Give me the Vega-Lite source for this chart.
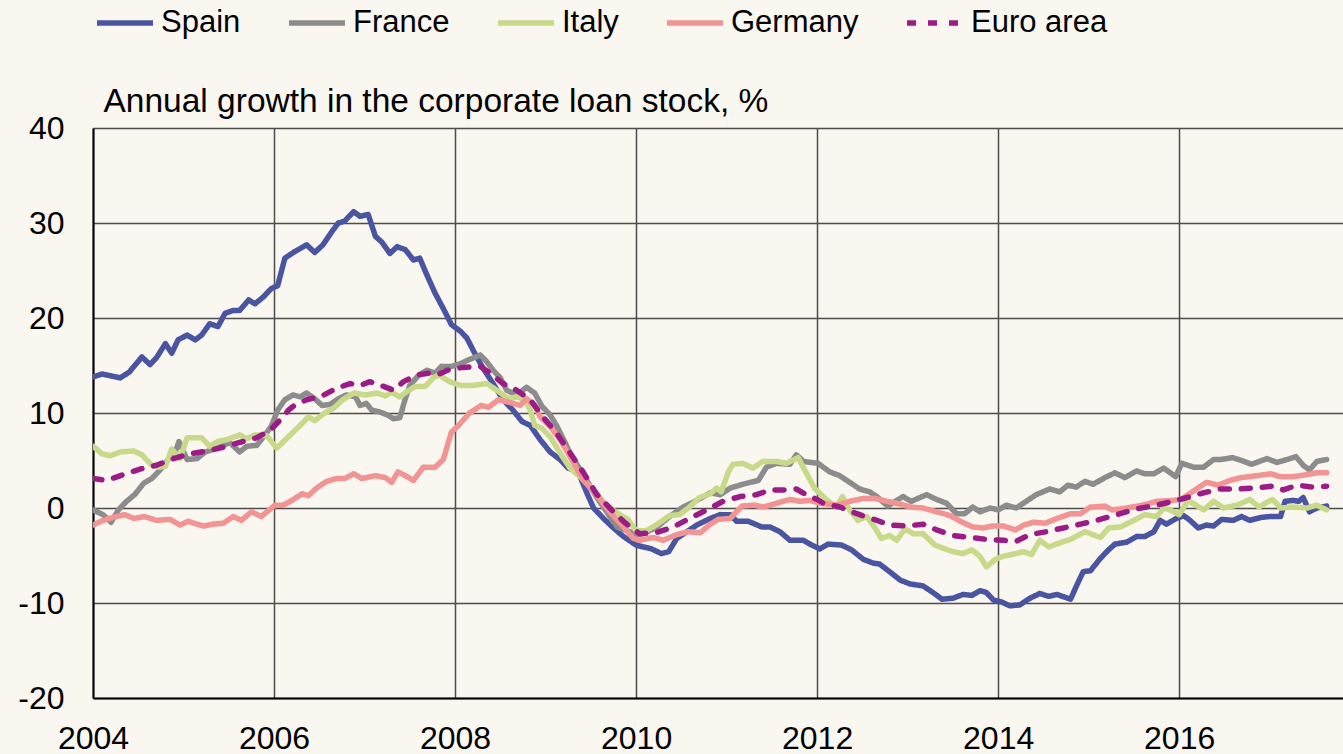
{
  "$schema": "https://vega.github.io/schema/vega-lite/v6.json",
  "width": 1250,
  "height": 570,
  "autosize": "none",
  "padding": {"left": 93, "top": 128, "right": 0, "bottom": 56},
  "background": "#FAF6F0",
  "config": {
    "view": {"stroke": null},
    "font": "Liberation Sans",
    "axis": {
      "labelFont": "Liberation Sans",
      "titleFont": "Liberation Sans",
      "labelColor": "#000000",
      "titleColor": "#000000",
      "ticks": false,
      "domainColor": "#000000",
      "domainWidth": 2,
      "gridColor": "#4d4d4d",
      "gridWidth": 1.5,
      "gridOpacity": 1
    }
  },
  "datasets": {
    "loans": [
      {"c":"Spain","t":2004.00,"v":13.8},{"c":"Spain","t":2004.10,"v":14.1},{"c":"Spain","t":2004.30,"v":13.7},{"c":"Spain","t":2004.40,"v":14.3},{"c":"Spain","t":2004.54,"v":15.9},{"c":"Spain","t":2004.63,"v":15.1},{"c":"Spain","t":2004.70,"v":15.8},{"c":"Spain","t":2004.80,"v":17.3},{"c":"Spain","t":2004.87,"v":16.3},{"c":"Spain","t":2004.94,"v":17.7},
      {"c":"Spain","t":2005.04,"v":18.2},{"c":"Spain","t":2005.13,"v":17.7},{"c":"Spain","t":2005.20,"v":18.2},{"c":"Spain","t":2005.29,"v":19.4},{"c":"Spain","t":2005.38,"v":19.1},{"c":"Spain","t":2005.46,"v":20.5},{"c":"Spain","t":2005.55,"v":20.8},{"c":"Spain","t":2005.62,"v":20.8},{"c":"Spain","t":2005.72,"v":21.9},{"c":"Spain","t":2005.79,"v":21.5},{"c":"Spain","t":2005.88,"v":22.2},{"c":"Spain","t":2005.97,"v":23.1},
      {"c":"Spain","t":2006.04,"v":23.4},{"c":"Spain","t":2006.12,"v":26.3},{"c":"Spain","t":2006.23,"v":27.0},{"c":"Spain","t":2006.36,"v":27.7},{"c":"Spain","t":2006.45,"v":26.9},{"c":"Spain","t":2006.54,"v":27.7},{"c":"Spain","t":2006.64,"v":29.1},{"c":"Spain","t":2006.71,"v":30.0},{"c":"Spain","t":2006.78,"v":30.2},{"c":"Spain","t":2006.88,"v":31.2},{"c":"Spain","t":2006.95,"v":30.7},
      {"c":"Spain","t":2007.04,"v":30.9},{"c":"Spain","t":2007.12,"v":28.6},{"c":"Spain","t":2007.19,"v":28.0},{"c":"Spain","t":2007.28,"v":26.8},{"c":"Spain","t":2007.36,"v":27.5},{"c":"Spain","t":2007.45,"v":27.2},{"c":"Spain","t":2007.54,"v":26.1},{"c":"Spain","t":2007.61,"v":26.3},{"c":"Spain","t":2007.69,"v":24.5},{"c":"Spain","t":2007.78,"v":22.6},{"c":"Spain","t":2007.87,"v":21.0},{"c":"Spain","t":2007.96,"v":19.3},
      {"c":"Spain","t":2008.06,"v":18.6},{"c":"Spain","t":2008.13,"v":17.9},{"c":"Spain","t":2008.20,"v":16.6},{"c":"Spain","t":2008.31,"v":14.7},{"c":"Spain","t":2008.42,"v":13.1},{"c":"Spain","t":2008.53,"v":11.4},{"c":"Spain","t":2008.64,"v":10.3},{"c":"Spain","t":2008.74,"v":9.1},{"c":"Spain","t":2008.83,"v":8.7},{"c":"Spain","t":2008.94,"v":7.2},
      {"c":"Spain","t":2009.05,"v":5.9},{"c":"Spain","t":2009.16,"v":5.1},{"c":"Spain","t":2009.25,"v":4.2},{"c":"Spain","t":2009.36,"v":3.8},{"c":"Spain","t":2009.46,"v":1.5},{"c":"Spain","t":2009.53,"v":0.0},{"c":"Spain","t":2009.64,"v":-1.1},{"c":"Spain","t":2009.75,"v":-2.1},{"c":"Spain","t":2009.86,"v":-3.0},
      {"c":"Spain","t":2010.00,"v":-3.9},{"c":"Spain","t":2010.08,"v":-4.1},{"c":"Spain","t":2010.17,"v":-4.3},{"c":"Spain","t":2010.28,"v":-4.8},{"c":"Spain","t":2010.36,"v":-4.6},{"c":"Spain","t":2010.45,"v":-3.2},{"c":"Spain","t":2010.56,"v":-2.5},{"c":"Spain","t":2010.67,"v":-1.8},{"c":"Spain","t":2010.82,"v":-1.1},{"c":"Spain","t":2010.93,"v":-0.7},
      {"c":"Spain","t":2011.04,"v":-0.7},{"c":"Spain","t":2011.11,"v":-1.4},{"c":"Spain","t":2011.24,"v":-1.4},{"c":"Spain","t":2011.39,"v":-2.0},{"c":"Spain","t":2011.48,"v":-2.0},{"c":"Spain","t":2011.59,"v":-2.5},{"c":"Spain","t":2011.70,"v":-3.4},{"c":"Spain","t":2011.85,"v":-3.4},{"c":"Spain","t":2011.94,"v":-3.9},
      {"c":"Spain","t":2012.03,"v":-4.3},{"c":"Spain","t":2012.12,"v":-3.8},{"c":"Spain","t":2012.27,"v":-3.9},{"c":"Spain","t":2012.38,"v":-4.4},{"c":"Spain","t":2012.51,"v":-5.4},{"c":"Spain","t":2012.62,"v":-5.8},{"c":"Spain","t":2012.69,"v":-5.9},{"c":"Spain","t":2012.80,"v":-6.7},{"c":"Spain","t":2012.92,"v":-7.6},
      {"c":"Spain","t":2013.03,"v":-8.0},{"c":"Spain","t":2013.17,"v":-8.2},{"c":"Spain","t":2013.28,"v":-8.9},{"c":"Spain","t":2013.38,"v":-9.6},{"c":"Spain","t":2013.50,"v":-9.5},{"c":"Spain","t":2013.61,"v":-9.1},{"c":"Spain","t":2013.71,"v":-9.2},{"c":"Spain","t":2013.80,"v":-8.7},{"c":"Spain","t":2013.87,"v":-8.9},{"c":"Spain","t":2013.95,"v":-9.7},
      {"c":"Spain","t":2014.04,"v":-9.9},{"c":"Spain","t":2014.13,"v":-10.3},{"c":"Spain","t":2014.24,"v":-10.2},{"c":"Spain","t":2014.35,"v":-9.5},{"c":"Spain","t":2014.46,"v":-9.0},{"c":"Spain","t":2014.56,"v":-9.3},{"c":"Spain","t":2014.65,"v":-9.1},{"c":"Spain","t":2014.80,"v":-9.6},{"c":"Spain","t":2014.87,"v":-8.1},{"c":"Spain","t":2014.94,"v":-6.7},
      {"c":"Spain","t":2015.02,"v":-6.6},{"c":"Spain","t":2015.13,"v":-5.3},{"c":"Spain","t":2015.22,"v":-4.4},{"c":"Spain","t":2015.29,"v":-3.8},{"c":"Spain","t":2015.42,"v":-3.6},{"c":"Spain","t":2015.53,"v":-3.0},{"c":"Spain","t":2015.62,"v":-3.0},{"c":"Spain","t":2015.72,"v":-2.5},{"c":"Spain","t":2015.79,"v":-1.3},{"c":"Spain","t":2015.86,"v":-1.7},{"c":"Spain","t":2015.97,"v":-1.1},
      {"c":"Spain","t":2016.05,"v":-0.8},{"c":"Spain","t":2016.12,"v":-1.3},{"c":"Spain","t":2016.21,"v":-2.1},{"c":"Spain","t":2016.30,"v":-1.8},{"c":"Spain","t":2016.38,"v":-1.9},{"c":"Spain","t":2016.47,"v":-1.2},{"c":"Spain","t":2016.60,"v":-1.3},{"c":"Spain","t":2016.69,"v":-0.9},{"c":"Spain","t":2016.78,"v":-1.3},{"c":"Spain","t":2016.90,"v":-1.0},
      {"c":"Spain","t":2017.00,"v":-0.9},{"c":"Spain","t":2017.12,"v":-0.9},{"c":"Spain","t":2017.17,"v":0.7},{"c":"Spain","t":2017.26,"v":0.8},{"c":"Spain","t":2017.32,"v":0.7},{"c":"Spain","t":2017.37,"v":1.1},{"c":"Spain","t":2017.44,"v":-0.4},{"c":"Spain","t":2017.52,"v":0.0},{"c":"Spain","t":2017.63,"v":0.2},

      {"c":"France","t":2004.00,"v":-0.2},{"c":"France","t":2004.11,"v":-0.7},{"c":"France","t":2004.20,"v":-1.5},{"c":"France","t":2004.28,"v":-0.2},{"c":"France","t":2004.37,"v":0.7},{"c":"France","t":2004.46,"v":1.4},{"c":"France","t":2004.56,"v":2.6},{"c":"France","t":2004.65,"v":3.1},{"c":"France","t":2004.74,"v":4.0},{"c":"France","t":2004.83,"v":5.1},{"c":"France","t":2004.91,"v":5.9},{"c":"France","t":2004.95,"v":7.0},
      {"c":"France","t":2005.04,"v":5.1},{"c":"France","t":2005.15,"v":5.2},{"c":"France","t":2005.24,"v":5.9},{"c":"France","t":2005.37,"v":6.3},{"c":"France","t":2005.51,"v":6.9},{"c":"France","t":2005.62,"v":5.9},{"c":"France","t":2005.70,"v":6.5},{"c":"France","t":2005.81,"v":6.6},{"c":"France","t":2005.90,"v":7.7},{"c":"France","t":2005.97,"v":8.6},
      {"c":"France","t":2006.04,"v":10.3},{"c":"France","t":2006.12,"v":11.4},{"c":"France","t":2006.21,"v":11.9},{"c":"France","t":2006.29,"v":11.7},{"c":"France","t":2006.36,"v":12.1},{"c":"France","t":2006.45,"v":11.5},{"c":"France","t":2006.53,"v":10.8},{"c":"France","t":2006.62,"v":10.9},{"c":"France","t":2006.71,"v":11.5},{"c":"France","t":2006.80,"v":11.9},{"c":"France","t":2006.90,"v":11.7},{"c":"France","t":2006.95,"v":10.8},
      {"c":"France","t":2007.02,"v":11.0},{"c":"France","t":2007.08,"v":10.3},{"c":"France","t":2007.17,"v":10.1},{"c":"France","t":2007.25,"v":9.8},{"c":"France","t":2007.32,"v":9.4},{"c":"France","t":2007.39,"v":9.5},{"c":"France","t":2007.45,"v":11.5},{"c":"France","t":2007.50,"v":12.9},{"c":"France","t":2007.60,"v":14.0},{"c":"France","t":2007.69,"v":14.5},{"c":"France","t":2007.78,"v":14.2},{"c":"France","t":2007.85,"v":14.9},{"c":"France","t":2007.96,"v":14.9},
      {"c":"France","t":2008.06,"v":15.2},{"c":"France","t":2008.15,"v":15.6},{"c":"France","t":2008.28,"v":16.1},{"c":"France","t":2008.35,"v":15.4},{"c":"France","t":2008.42,"v":14.5},{"c":"France","t":2008.50,"v":13.7},{"c":"France","t":2008.57,"v":12.4},{"c":"France","t":2008.68,"v":11.9},{"c":"France","t":2008.79,"v":12.7},{"c":"France","t":2008.88,"v":12.1},{"c":"France","t":2008.96,"v":10.7},
      {"c":"France","t":2009.05,"v":9.8},{"c":"France","t":2009.12,"v":8.7},{"c":"France","t":2009.20,"v":7.2},{"c":"France","t":2009.29,"v":5.4},{"c":"France","t":2009.40,"v":3.8},{"c":"France","t":2009.56,"v":1.2},{"c":"France","t":2009.79,"v":-2.0},{"c":"France","t":2009.93,"v":-2.5},
      {"c":"France","t":2010.04,"v":-2.8},{"c":"France","t":2010.22,"v":-2.1},{"c":"France","t":2010.37,"v":-0.9},{"c":"France","t":2010.52,"v":0.1},{"c":"France","t":2010.67,"v":0.8},{"c":"France","t":2010.82,"v":1.6},{"c":"France","t":2010.93,"v":1.4},
      {"c":"France","t":2011.04,"v":2.1},{"c":"France","t":2011.18,"v":2.5},{"c":"France","t":2011.35,"v":2.9},{"c":"France","t":2011.44,"v":4.3},{"c":"France","t":2011.55,"v":4.7},{"c":"France","t":2011.70,"v":4.6},{"c":"France","t":2011.77,"v":5.6},{"c":"France","t":2011.85,"v":4.9},
      {"c":"France","t":2012.01,"v":4.7},{"c":"France","t":2012.14,"v":3.8},{"c":"France","t":2012.25,"v":3.4},{"c":"France","t":2012.36,"v":2.7},{"c":"France","t":2012.47,"v":2.0},{"c":"France","t":2012.58,"v":1.7},{"c":"France","t":2012.66,"v":1.2},{"c":"France","t":2012.78,"v":0.2},{"c":"France","t":2012.88,"v":0.8},{"c":"France","t":2012.95,"v":1.2},
      {"c":"France","t":2013.04,"v":0.7},{"c":"France","t":2013.21,"v":1.4},{"c":"France","t":2013.32,"v":0.9},{"c":"France","t":2013.43,"v":0.5},{"c":"France","t":2013.54,"v":-0.6},{"c":"France","t":2013.63,"v":-0.6},{"c":"France","t":2013.72,"v":0.1},{"c":"France","t":2013.80,"v":-0.4},{"c":"France","t":2013.91,"v":0.0},
      {"c":"France","t":2014.00,"v":-0.2},{"c":"France","t":2014.09,"v":0.3},{"c":"France","t":2014.20,"v":0.0},{"c":"France","t":2014.31,"v":0.7},{"c":"France","t":2014.42,"v":1.4},{"c":"France","t":2014.57,"v":2.0},{"c":"France","t":2014.68,"v":1.7},{"c":"France","t":2014.77,"v":2.4},{"c":"France","t":2014.86,"v":2.2},{"c":"France","t":2014.96,"v":2.8},
      {"c":"France","t":2015.05,"v":2.5},{"c":"France","t":2015.18,"v":3.2},{"c":"France","t":2015.29,"v":3.7},{"c":"France","t":2015.40,"v":3.2},{"c":"France","t":2015.53,"v":3.9},{"c":"France","t":2015.62,"v":3.6},{"c":"France","t":2015.72,"v":3.6},{"c":"France","t":2015.83,"v":4.2},{"c":"France","t":2015.96,"v":3.3},
      {"c":"France","t":2016.03,"v":4.7},{"c":"France","t":2016.16,"v":4.3},{"c":"France","t":2016.27,"v":4.3},{"c":"France","t":2016.38,"v":5.1},{"c":"France","t":2016.46,"v":5.1},{"c":"France","t":2016.59,"v":5.3},{"c":"France","t":2016.69,"v":5.0},{"c":"France","t":2016.80,"v":4.6},{"c":"France","t":2016.97,"v":5.2},
      {"c":"France","t":2017.08,"v":4.8},{"c":"France","t":2017.19,"v":5.1},{"c":"France","t":2017.29,"v":5.4},{"c":"France","t":2017.37,"v":4.5},{"c":"France","t":2017.44,"v":4.0},{"c":"France","t":2017.52,"v":4.9},{"c":"France","t":2017.63,"v":5.1},

      {"c":"Italy","t":2004.00,"v":6.5},{"c":"Italy","t":2004.10,"v":5.7},{"c":"Italy","t":2004.19,"v":5.5},{"c":"Italy","t":2004.30,"v":5.9},{"c":"Italy","t":2004.45,"v":6.0},{"c":"Italy","t":2004.54,"v":5.6},{"c":"Italy","t":2004.65,"v":4.5},{"c":"Italy","t":2004.72,"v":4.3},{"c":"Italy","t":2004.80,"v":4.4},{"c":"Italy","t":2004.87,"v":6.2},{"c":"Italy","t":2004.96,"v":5.2},
      {"c":"Italy","t":2005.04,"v":7.4},{"c":"Italy","t":2005.20,"v":7.4},{"c":"Italy","t":2005.29,"v":6.5},{"c":"Italy","t":2005.38,"v":7.0},{"c":"Italy","t":2005.48,"v":7.2},{"c":"Italy","t":2005.62,"v":7.7},{"c":"Italy","t":2005.70,"v":7.3},{"c":"Italy","t":2005.79,"v":7.7},{"c":"Italy","t":2005.92,"v":7.6},
      {"c":"Italy","t":2006.03,"v":6.3},{"c":"Italy","t":2006.18,"v":7.7},{"c":"Italy","t":2006.31,"v":8.9},{"c":"Italy","t":2006.38,"v":9.6},{"c":"Italy","t":2006.45,"v":9.2},{"c":"Italy","t":2006.56,"v":10.0},{"c":"Italy","t":2006.67,"v":10.6},{"c":"Italy","t":2006.76,"v":11.4},{"c":"Italy","t":2006.88,"v":12.1},
      {"c":"Italy","t":2007.01,"v":11.9},{"c":"Italy","t":2007.14,"v":12.1},{"c":"Italy","t":2007.23,"v":11.8},{"c":"Italy","t":2007.30,"v":12.2},{"c":"Italy","t":2007.39,"v":11.7},{"c":"Italy","t":2007.46,"v":12.2},{"c":"Italy","t":2007.56,"v":12.8},{"c":"Italy","t":2007.67,"v":12.8},{"c":"Italy","t":2007.76,"v":13.7},{"c":"Italy","t":2007.82,"v":14.0},{"c":"Italy","t":2007.94,"v":13.3},
      {"c":"Italy","t":2008.06,"v":12.9},{"c":"Italy","t":2008.20,"v":12.9},{"c":"Italy","t":2008.35,"v":13.1},{"c":"Italy","t":2008.46,"v":12.4},{"c":"Italy","t":2008.59,"v":11.5},{"c":"Italy","t":2008.68,"v":11.7},{"c":"Italy","t":2008.77,"v":11.4},{"c":"Italy","t":2008.83,"v":10.3},{"c":"Italy","t":2008.88,"v":8.7},{"c":"Italy","t":2008.96,"v":8.4},
      {"c":"Italy","t":2009.05,"v":7.5},{"c":"Italy","t":2009.16,"v":5.8},{"c":"Italy","t":2009.27,"v":4.2},{"c":"Italy","t":2009.38,"v":3.3},{"c":"Italy","t":2009.53,"v":1.9},{"c":"Italy","t":2009.67,"v":0.3},{"c":"Italy","t":2009.82,"v":-0.7},{"c":"Italy","t":2009.91,"v":-1.2},
      {"c":"Italy","t":2010.00,"v":-2.4},{"c":"Italy","t":2010.11,"v":-2.4},{"c":"Italy","t":2010.22,"v":-1.8},{"c":"Italy","t":2010.37,"v":-0.8},{"c":"Italy","t":2010.48,"v":-0.7},{"c":"Italy","t":2010.59,"v":0.1},{"c":"Italy","t":2010.70,"v":1.1},{"c":"Italy","t":2010.82,"v":1.5},{"c":"Italy","t":2010.89,"v":2.1},{"c":"Italy","t":2010.94,"v":1.7},
      {"c":"Italy","t":2011.02,"v":3.8},{"c":"Italy","t":2011.07,"v":4.6},{"c":"Italy","t":2011.18,"v":4.7},{"c":"Italy","t":2011.29,"v":4.2},{"c":"Italy","t":2011.40,"v":4.9},{"c":"Italy","t":2011.55,"v":4.9},{"c":"Italy","t":2011.66,"v":4.7},{"c":"Italy","t":2011.79,"v":5.3},{"c":"Italy","t":2011.88,"v":3.7},{"c":"Italy","t":2011.97,"v":2.1},
      {"c":"Italy","t":2012.10,"v":0.9},{"c":"Italy","t":2012.21,"v":0.1},{"c":"Italy","t":2012.28,"v":1.2},{"c":"Italy","t":2012.36,"v":-0.2},{"c":"Italy","t":2012.45,"v":-1.3},{"c":"Italy","t":2012.55,"v":-0.9},{"c":"Italy","t":2012.64,"v":-2.1},{"c":"Italy","t":2012.71,"v":-3.2},{"c":"Italy","t":2012.80,"v":-2.9},{"c":"Italy","t":2012.88,"v":-3.4},{"c":"Italy","t":2012.97,"v":-2.2},
      {"c":"Italy","t":2013.06,"v":-2.7},{"c":"Italy","t":2013.17,"v":-2.7},{"c":"Italy","t":2013.30,"v":-3.9},{"c":"Italy","t":2013.41,"v":-4.3},{"c":"Italy","t":2013.50,"v":-4.6},{"c":"Italy","t":2013.61,"v":-4.8},{"c":"Italy","t":2013.71,"v":-4.4},{"c":"Italy","t":2013.80,"v":-5.1},{"c":"Italy","t":2013.87,"v":-6.2},{"c":"Italy","t":2013.97,"v":-5.4},
      {"c":"Italy","t":2014.05,"v":-5.1},{"c":"Italy","t":2014.20,"v":-4.8},{"c":"Italy","t":2014.28,"v":-4.6},{"c":"Italy","t":2014.37,"v":-4.9},{"c":"Italy","t":2014.46,"v":-3.4},{"c":"Italy","t":2014.56,"v":-4.1},{"c":"Italy","t":2014.67,"v":-3.7},{"c":"Italy","t":2014.80,"v":-3.3},{"c":"Italy","t":2014.96,"v":-2.5},
      {"c":"Italy","t":2015.13,"v":-3.1},{"c":"Italy","t":2015.22,"v":-2.1},{"c":"Italy","t":2015.35,"v":-2.0},{"c":"Italy","t":2015.50,"v":-1.3},{"c":"Italy","t":2015.62,"v":-0.7},{"c":"Italy","t":2015.75,"v":-0.9},{"c":"Italy","t":2015.83,"v":0.0},{"c":"Italy","t":2015.90,"v":-0.2},
      {"c":"Italy","t":2016.00,"v":-0.7},{"c":"Italy","t":2016.10,"v":0.8},{"c":"Italy","t":2016.27,"v":-0.2},{"c":"Italy","t":2016.38,"v":0.7},{"c":"Italy","t":2016.49,"v":0.0},{"c":"Italy","t":2016.64,"v":0.3},{"c":"Italy","t":2016.78,"v":0.9},{"c":"Italy","t":2016.88,"v":0.1},
      {"c":"Italy","t":2017.03,"v":0.9},{"c":"Italy","t":2017.12,"v":0.0},{"c":"Italy","t":2017.26,"v":0.1},{"c":"Italy","t":2017.41,"v":0.0},{"c":"Italy","t":2017.52,"v":0.3},{"c":"Italy","t":2017.63,"v":-0.2},

      {"c":"Germany","t":2004.00,"v":-1.8},{"c":"Germany","t":2004.11,"v":-1.3},{"c":"Germany","t":2004.22,"v":-1.0},{"c":"Germany","t":2004.35,"v":-0.7},{"c":"Germany","t":2004.45,"v":-1.1},{"c":"Germany","t":2004.57,"v":-0.9},{"c":"Germany","t":2004.70,"v":-1.3},{"c":"Germany","t":2004.85,"v":-1.2},{"c":"Germany","t":2004.96,"v":-1.8},
      {"c":"Germany","t":2005.05,"v":-1.4},{"c":"Germany","t":2005.22,"v":-1.9},{"c":"Germany","t":2005.33,"v":-1.7},{"c":"Germany","t":2005.44,"v":-1.6},{"c":"Germany","t":2005.55,"v":-0.9},{"c":"Germany","t":2005.64,"v":-1.3},{"c":"Germany","t":2005.75,"v":-0.4},{"c":"Germany","t":2005.86,"v":-0.9},
      {"c":"Germany","t":2006.01,"v":0.3},{"c":"Germany","t":2006.10,"v":0.3},{"c":"Germany","t":2006.18,"v":0.7},{"c":"Germany","t":2006.31,"v":1.5},{"c":"Germany","t":2006.38,"v":1.3},{"c":"Germany","t":2006.47,"v":2.1},{"c":"Germany","t":2006.58,"v":2.8},{"c":"Germany","t":2006.69,"v":3.1},{"c":"Germany","t":2006.78,"v":3.1},{"c":"Germany","t":2006.88,"v":3.6},{"c":"Germany","t":2006.97,"v":3.1},
      {"c":"Germany","t":2007.12,"v":3.4},{"c":"Germany","t":2007.23,"v":3.2},{"c":"Germany","t":2007.30,"v":2.7},{"c":"Germany","t":2007.37,"v":3.8},{"c":"Germany","t":2007.47,"v":3.3},{"c":"Germany","t":2007.54,"v":2.9},{"c":"Germany","t":2007.65,"v":4.3},{"c":"Germany","t":2007.78,"v":4.3},{"c":"Germany","t":2007.87,"v":5.1},{"c":"Germany","t":2007.96,"v":8.0},
      {"c":"Germany","t":2008.03,"v":8.6},{"c":"Germany","t":2008.16,"v":10.0},{"c":"Germany","t":2008.29,"v":10.8},{"c":"Germany","t":2008.37,"v":10.6},{"c":"Germany","t":2008.48,"v":11.4},{"c":"Germany","t":2008.61,"v":11.1},{"c":"Germany","t":2008.72,"v":10.8},{"c":"Germany","t":2008.79,"v":11.5},{"c":"Germany","t":2008.88,"v":10.8},{"c":"Germany","t":2008.94,"v":9.6},
      {"c":"Germany","t":2009.05,"v":8.6},{"c":"Germany","t":2009.16,"v":7.2},{"c":"Germany","t":2009.27,"v":5.4},{"c":"Germany","t":2009.42,"v":2.9},{"c":"Germany","t":2009.56,"v":1.4},{"c":"Germany","t":2009.71,"v":-0.4},{"c":"Germany","t":2009.86,"v":-2.0},{"c":"Germany","t":2009.97,"v":-3.2},
      {"c":"Germany","t":2010.04,"v":-3.4},{"c":"Germany","t":2010.19,"v":-3.1},{"c":"Germany","t":2010.30,"v":-3.4},{"c":"Germany","t":2010.45,"v":-2.8},{"c":"Germany","t":2010.58,"v":-2.5},{"c":"Germany","t":2010.71,"v":-2.6},{"c":"Germany","t":2010.82,"v":-1.7},{"c":"Germany","t":2010.91,"v":-1.2},
      {"c":"Germany","t":2011.04,"v":-1.1},{"c":"Germany","t":2011.17,"v":0.2},{"c":"Germany","t":2011.30,"v":0.3},{"c":"Germany","t":2011.41,"v":0.1},{"c":"Germany","t":2011.55,"v":0.5},{"c":"Germany","t":2011.70,"v":0.9},{"c":"Germany","t":2011.81,"v":0.7},{"c":"Germany","t":2011.92,"v":0.8},
      {"c":"Germany","t":2012.03,"v":0.5},{"c":"Germany","t":2012.22,"v":0.3},{"c":"Germany","t":2012.36,"v":0.7},{"c":"Germany","t":2012.51,"v":1.0},{"c":"Germany","t":2012.64,"v":1.0},{"c":"Germany","t":2012.77,"v":0.7},{"c":"Germany","t":2012.92,"v":0.4},
      {"c":"Germany","t":2013.03,"v":0.1},{"c":"Germany","t":2013.17,"v":0.0},{"c":"Germany","t":2013.32,"v":-0.4},{"c":"Germany","t":2013.47,"v":-0.8},{"c":"Germany","t":2013.58,"v":-1.4},{"c":"Germany","t":2013.72,"v":-2.0},{"c":"Germany","t":2013.83,"v":-2.1},{"c":"Germany","t":2013.94,"v":-1.9},
      {"c":"Germany","t":2014.06,"v":-1.9},{"c":"Germany","t":2014.19,"v":-2.3},{"c":"Germany","t":2014.28,"v":-1.8},{"c":"Germany","t":2014.39,"v":-1.5},{"c":"Germany","t":2014.52,"v":-1.6},{"c":"Germany","t":2014.65,"v":-1.1},{"c":"Germany","t":2014.80,"v":-0.6},{"c":"Germany","t":2014.91,"v":-0.6},
      {"c":"Germany","t":2015.02,"v":0.1},{"c":"Germany","t":2015.18,"v":0.2},{"c":"Germany","t":2015.26,"v":-0.2},{"c":"Germany","t":2015.42,"v":0.0},{"c":"Germany","t":2015.60,"v":0.3},{"c":"Germany","t":2015.75,"v":0.7},{"c":"Germany","t":2015.93,"v":0.8},
      {"c":"Germany","t":2016.02,"v":0.9},{"c":"Germany","t":2016.16,"v":1.8},{"c":"Germany","t":2016.30,"v":2.7},{"c":"Germany","t":2016.43,"v":2.4},{"c":"Germany","t":2016.56,"v":2.9},{"c":"Germany","t":2016.69,"v":3.2},{"c":"Germany","t":2016.86,"v":3.4},
      {"c":"Germany","t":2017.01,"v":3.6},{"c":"Germany","t":2017.12,"v":3.3},{"c":"Germany","t":2017.26,"v":3.3},{"c":"Germany","t":2017.41,"v":3.5},{"c":"Germany","t":2017.52,"v":3.7},{"c":"Germany","t":2017.63,"v":3.7},

      {"c":"Euro area","t":2004.00,"v":3.1},{"c":"Euro area","t":2004.15,"v":2.9},{"c":"Euro area","t":2004.33,"v":3.5},{"c":"Euro area","t":2004.52,"v":4.1},{"c":"Euro area","t":2004.70,"v":4.5},{"c":"Euro area","t":2004.89,"v":5.2},
      {"c":"Euro area","t":2005.07,"v":5.7},{"c":"Euro area","t":2005.26,"v":6.0},{"c":"Euro area","t":2005.44,"v":6.4},{"c":"Euro area","t":2005.62,"v":6.9},{"c":"Euro area","t":2005.81,"v":7.4},{"c":"Euro area","t":2005.96,"v":8.2},
      {"c":"Euro area","t":2006.07,"v":9.3},{"c":"Euro area","t":2006.16,"v":10.3},{"c":"Euro area","t":2006.21,"v":10.7},{"c":"Euro area","t":2006.36,"v":11.4},{"c":"Euro area","t":2006.51,"v":11.7},{"c":"Euro area","t":2006.69,"v":12.6},{"c":"Euro area","t":2006.84,"v":13.1},{"c":"Euro area","t":2006.95,"v":12.9},
      {"c":"Euro area","t":2007.06,"v":13.3},{"c":"Euro area","t":2007.21,"v":12.8},{"c":"Euro area","t":2007.32,"v":12.4},{"c":"Euro area","t":2007.43,"v":13.3},{"c":"Euro area","t":2007.58,"v":14.0},{"c":"Euro area","t":2007.72,"v":14.2},{"c":"Euro area","t":2007.80,"v":14.0},{"c":"Euro area","t":2007.94,"v":14.6},
      {"c":"Euro area","t":2008.09,"v":14.8},{"c":"Euro area","t":2008.28,"v":14.9},{"c":"Euro area","t":2008.39,"v":14.2},{"c":"Euro area","t":2008.53,"v":13.1},{"c":"Euro area","t":2008.68,"v":12.4},{"c":"Euro area","t":2008.83,"v":11.4},{"c":"Euro area","t":2008.97,"v":9.6},
      {"c":"Euro area","t":2009.12,"v":7.9},{"c":"Euro area","t":2009.27,"v":5.8},{"c":"Euro area","t":2009.42,"v":3.7},{"c":"Euro area","t":2009.56,"v":1.5},{"c":"Euro area","t":2009.71,"v":0.0},{"c":"Euro area","t":2009.86,"v":-1.4},{"c":"Euro area","t":2009.95,"v":-2.1},
      {"c":"Euro area","t":2010.04,"v":-2.7},{"c":"Euro area","t":2010.22,"v":-2.6},{"c":"Euro area","t":2010.41,"v":-2.0},{"c":"Euro area","t":2010.59,"v":-1.1},{"c":"Euro area","t":2010.78,"v":-0.2},{"c":"Euro area","t":2010.96,"v":0.7},
      {"c":"Euro area","t":2011.15,"v":1.2},{"c":"Euro area","t":2011.33,"v":1.4},{"c":"Euro area","t":2011.48,"v":1.9},{"c":"Euro area","t":2011.63,"v":1.9},{"c":"Euro area","t":2011.77,"v":2.0},{"c":"Euro area","t":2011.88,"v":1.4},
      {"c":"Euro area","t":2012.00,"v":0.9},{"c":"Euro area","t":2012.07,"v":0.5},{"c":"Euro area","t":2012.25,"v":0.1},{"c":"Euro area","t":2012.44,"v":-0.6},{"c":"Euro area","t":2012.66,"v":-1.3},{"c":"Euro area","t":2012.81,"v":-1.8},{"c":"Euro area","t":2012.99,"v":-1.9},
      {"c":"Euro area","t":2013.17,"v":-1.7},{"c":"Euro area","t":2013.32,"v":-2.3},{"c":"Euro area","t":2013.50,"v":-2.9},{"c":"Euro area","t":2013.69,"v":-3.1},{"c":"Euro area","t":2013.87,"v":-3.3},
      {"c":"Euro area","t":2014.06,"v":-3.4},{"c":"Euro area","t":2014.20,"v":-3.5},{"c":"Euro area","t":2014.35,"v":-2.8},{"c":"Euro area","t":2014.53,"v":-2.5},{"c":"Euro area","t":2014.72,"v":-2.1},{"c":"Euro area","t":2014.91,"v":-1.7},
      {"c":"Euro area","t":2015.09,"v":-1.3},{"c":"Euro area","t":2015.31,"v":-0.7},{"c":"Euro area","t":2015.53,"v":-0.1},{"c":"Euro area","t":2015.75,"v":0.3},{"c":"Euro area","t":2015.93,"v":0.7},
      {"c":"Euro area","t":2016.05,"v":1.0},{"c":"Euro area","t":2016.23,"v":1.5},{"c":"Euro area","t":2016.45,"v":2.0},{"c":"Euro area","t":2016.64,"v":2.0},{"c":"Euro area","t":2016.82,"v":2.1},
      {"c":"Euro area","t":2017.04,"v":2.3},{"c":"Euro area","t":2017.15,"v":1.9},{"c":"Euro area","t":2017.30,"v":2.4},{"c":"Euro area","t":2017.48,"v":2.2},{"c":"Euro area","t":2017.63,"v":2.3}
    ]
  },
  "data": {"name": "loans"},
  "mark": {"type": "line", "strokeWidth": 5.5, "strokeCap": "round", "strokeJoin": "round", "clip": true},
  "encoding": {
    "x": {
      "field": "t",
      "type": "quantitative",
      "scale": {"domain": [2004, 2017.81], "nice": false, "zero": false},
      "axis": {
        "values": [2004, 2006, 2008, 2010, 2012, 2014, 2016],
        "labelExpr": "'' + datum.value",
        "title": null,
        "labelFontSize": 32,
        "labelPadding": 25,
        "labelFlush": false,
        "labelOverlap": false,
        "grid": true
      }
    },
    "y": {
      "field": "v",
      "type": "quantitative",
      "scale": {"domain": [-20, 40], "nice": false, "zero": false},
      "axis": {
        "values": [-20, -10, 0, 10, 20, 30, 40],
        "labelExpr": "'' + datum.value",
        "labelFontSize": 32,
        "labelPadding": 29,
        "title": "Annual growth in the corporate loan stock, %",
        "titleAngle": 0,
        "titleAlign": "left",
        "titleBaseline": "alphabetic",
        "titleX": 10,
        "titleY": -17,
        "titleFontSize": 33.5,
        "titleFontWeight": "normal",
        "grid": true
      }
    },
    "color": {
      "field": "c",
      "type": "nominal",
      "title": null,
      "scale": {
        "domain": ["Spain", "France", "Italy", "Germany", "Euro area"],
        "range": ["#4A55A2", "#8C8C8C", "#C8D98A", "#F29494", "#9B1C87"]
      },
      "legend": {
        "orient": "none",
        "legendX": 1,
        "legendY": -136,
        "direction": "horizontal",
        "symbolType": "stroke",
        "symbolSize": 3136,
        "symbolStrokeWidth": 5.5,
        "labelFontSize": 31,
        "labelFont": "Liberation Sans",
        "labelColor": "#000000",
        "labelOffset": 5,
        "columnPadding": 37,
        "padding": 0,
        "labelLimit": 400
      }
    },
    "strokeDash": {
      "field": "c",
      "type": "nominal",
      "title": null,
      "scale": {
        "domain": ["Spain", "France", "Italy", "Germany", "Euro area"],
        "range": [[1, 0], [1, 0], [1, 0], [1, 0], [9, 12]]
      }
    }
  }
}
